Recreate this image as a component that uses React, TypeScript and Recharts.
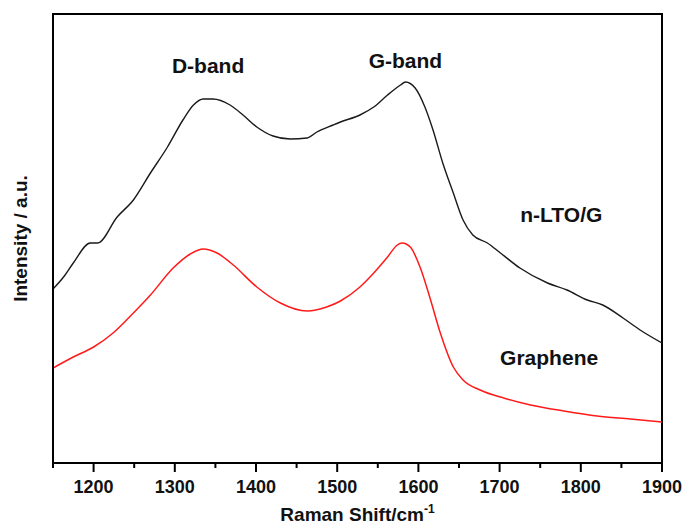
import React from 'react'
import { LineChart, Line, XAxis, YAxis, ReferenceDot, ReferenceArea } from 'recharts'

// Raman spectra, intensities in arbitrary units (offset stacked)
const ltoShift = [
  1150, 1163, 1175, 1196, 1205, 1229, 1249, 1270, 1291, 1310, 1323, 1335, 1347, 1368, 1384,
  1401, 1421, 1442, 1463, 1475, 1495, 1504, 1528, 1545, 1562, 1578, 1584, 1596, 1608, 1618,
  1630, 1643, 1655, 1667, 1685, 1701, 1725, 1759, 1783, 1808, 1827, 1852, 1873, 1900,
]
const ltoIntensity = [
  174, 186, 200, 220, 220, 246, 263, 290, 316, 343, 358, 364, 364, 358, 348,
  336, 327, 324, 325, 331, 338, 341, 348, 356, 368, 378, 381, 375, 356, 333,
  300, 270, 243, 228, 220, 210, 195, 180, 173, 163, 158, 145, 133, 120,
]

const grapheneShift = [
  1150, 1175, 1200, 1224, 1249, 1270, 1298, 1319, 1335, 1352, 1372, 1401, 1430, 1463, 1487,
  1504, 1528, 1545, 1562, 1574, 1580, 1590, 1602, 1615, 1627, 1643, 1655, 1676, 1705, 1738,
  1779, 1820, 1861, 1900,
]
const grapheneIntensity = [
  95, 106, 116, 130, 150, 168, 195, 209, 214, 210, 198, 176, 160, 152, 156,
  162, 176, 190, 206, 218, 220, 216, 196, 163, 130, 96, 83, 73, 65, 58,
  52, 47, 44, 41,
]

const xTicks = [1150, 1200, 1250, 1300, 1350, 1400, 1450, 1500, 1550, 1600, 1650, 1700, 1750, 1800, 1850, 1900]

const ltoData = ltoShift.map((w, i) => ({ w, v: ltoIntensity[i] }))
const grapheneData = grapheneShift.map((w, i) => ({ w, v: grapheneIntensity[i] }))

const FONT = '"Liberation Sans", Arial, sans-serif'

function XTick({ x, y, payload }: any) {
  const v = payload.value
  const major = v % 100 === 0
  return (
    <g>
      <line x1={x} x2={x} y1={y} y2={y + (major ? 9 : 5)} stroke="#000" strokeWidth={2} />
      {major && (
        <text x={x} y={y + 30} textAnchor="middle" fontSize={18} fontWeight="bold" fill="#111" fontFamily={FONT}>
          {v}
        </text>
      )}
    </g>
  )
}

function XTitle({ viewBox }: any) {
  const cx = viewBox.x + viewBox.width / 2
  return (
    <text x={cx} y={viewBox.y + 58} textAnchor="middle" fontSize={19} fontWeight="bold" fill="#111" fontFamily={FONT}>
      Raman Shift/cm
      <tspan dy={-8} fontSize={12}>-1</tspan>
    </text>
  )
}

const bandLabel = { fontSize: 21, fontWeight: 'bold', fill: '#111', fontFamily: FONT, position: 'center' as const }

export default function App() {
  return (
    <div style={{ position: 'absolute', left: 0, top: 0, background: '#fff', fontFamily: FONT }}>
      <LineChart width={684} height={524} margin={{ top: 14, right: 22, left: 0, bottom: 0 }}>
        <XAxis
          dataKey="w"
          type="number"
          domain={[1150, 1900]}
          ticks={xTicks}
          interval={0}
          allowDataOverflow
          height={61}
          tickSize={0}
          tickMargin={0}
          tickLine={false}
          axisLine={{ stroke: '#000', strokeWidth: 2 }}
          tick={<XTick />}
          label={{ content: <XTitle /> }}
        />
        <YAxis
          type="number"
          domain={[0, 449]}
          width={53}
          tick={false}
          tickLine={false}
          axisLine={{ stroke: '#000', strokeWidth: 2 }}
          label={{
            value: 'Intensity / a.u.',
            angle: -90,
            position: 'insideLeft',
            offset: 20,
            fontSize: 19,
            fontWeight: 'bold',
            fill: '#111',
            fontFamily: FONT,
            style: { textAnchor: 'middle' },
          }}
        />
        <ReferenceArea
          x1={1150}
          x2={1900}
          y1={0}
          y2={449}
          fill="none"
          stroke="#000"
          strokeWidth={2}
          ifOverflow="visible"
        />
        <Line
          data={ltoData}
          dataKey="v"
          type="monotone"
          stroke="#1a1a1a"
          strokeWidth={1.4}
          dot={false}
          isAnimationActive={false}
        />
        <Line
          data={grapheneData}
          dataKey="v"
          type="monotone"
          stroke="#ff1a1a"
          strokeWidth={1.5}
          dot={false}
          isAnimationActive={false}
        />
        <ReferenceDot x={1341} y={397} r={0} fill="none" stroke="none" label={{ value: 'D-band', ...bandLabel }} />
        <ReferenceDot x={1584} y={402} r={0} fill="none" stroke="none" label={{ value: 'G-band', ...bandLabel }} />
        <ReferenceDot x={1776} y={248} r={0} fill="none" stroke="none" label={{ value: 'n-LTO/G', ...bandLabel }} />
        <ReferenceDot x={1761} y={105} r={0} fill="none" stroke="none" label={{ value: 'Graphene', ...bandLabel }} />
      </LineChart>
    </div>
  )
}
